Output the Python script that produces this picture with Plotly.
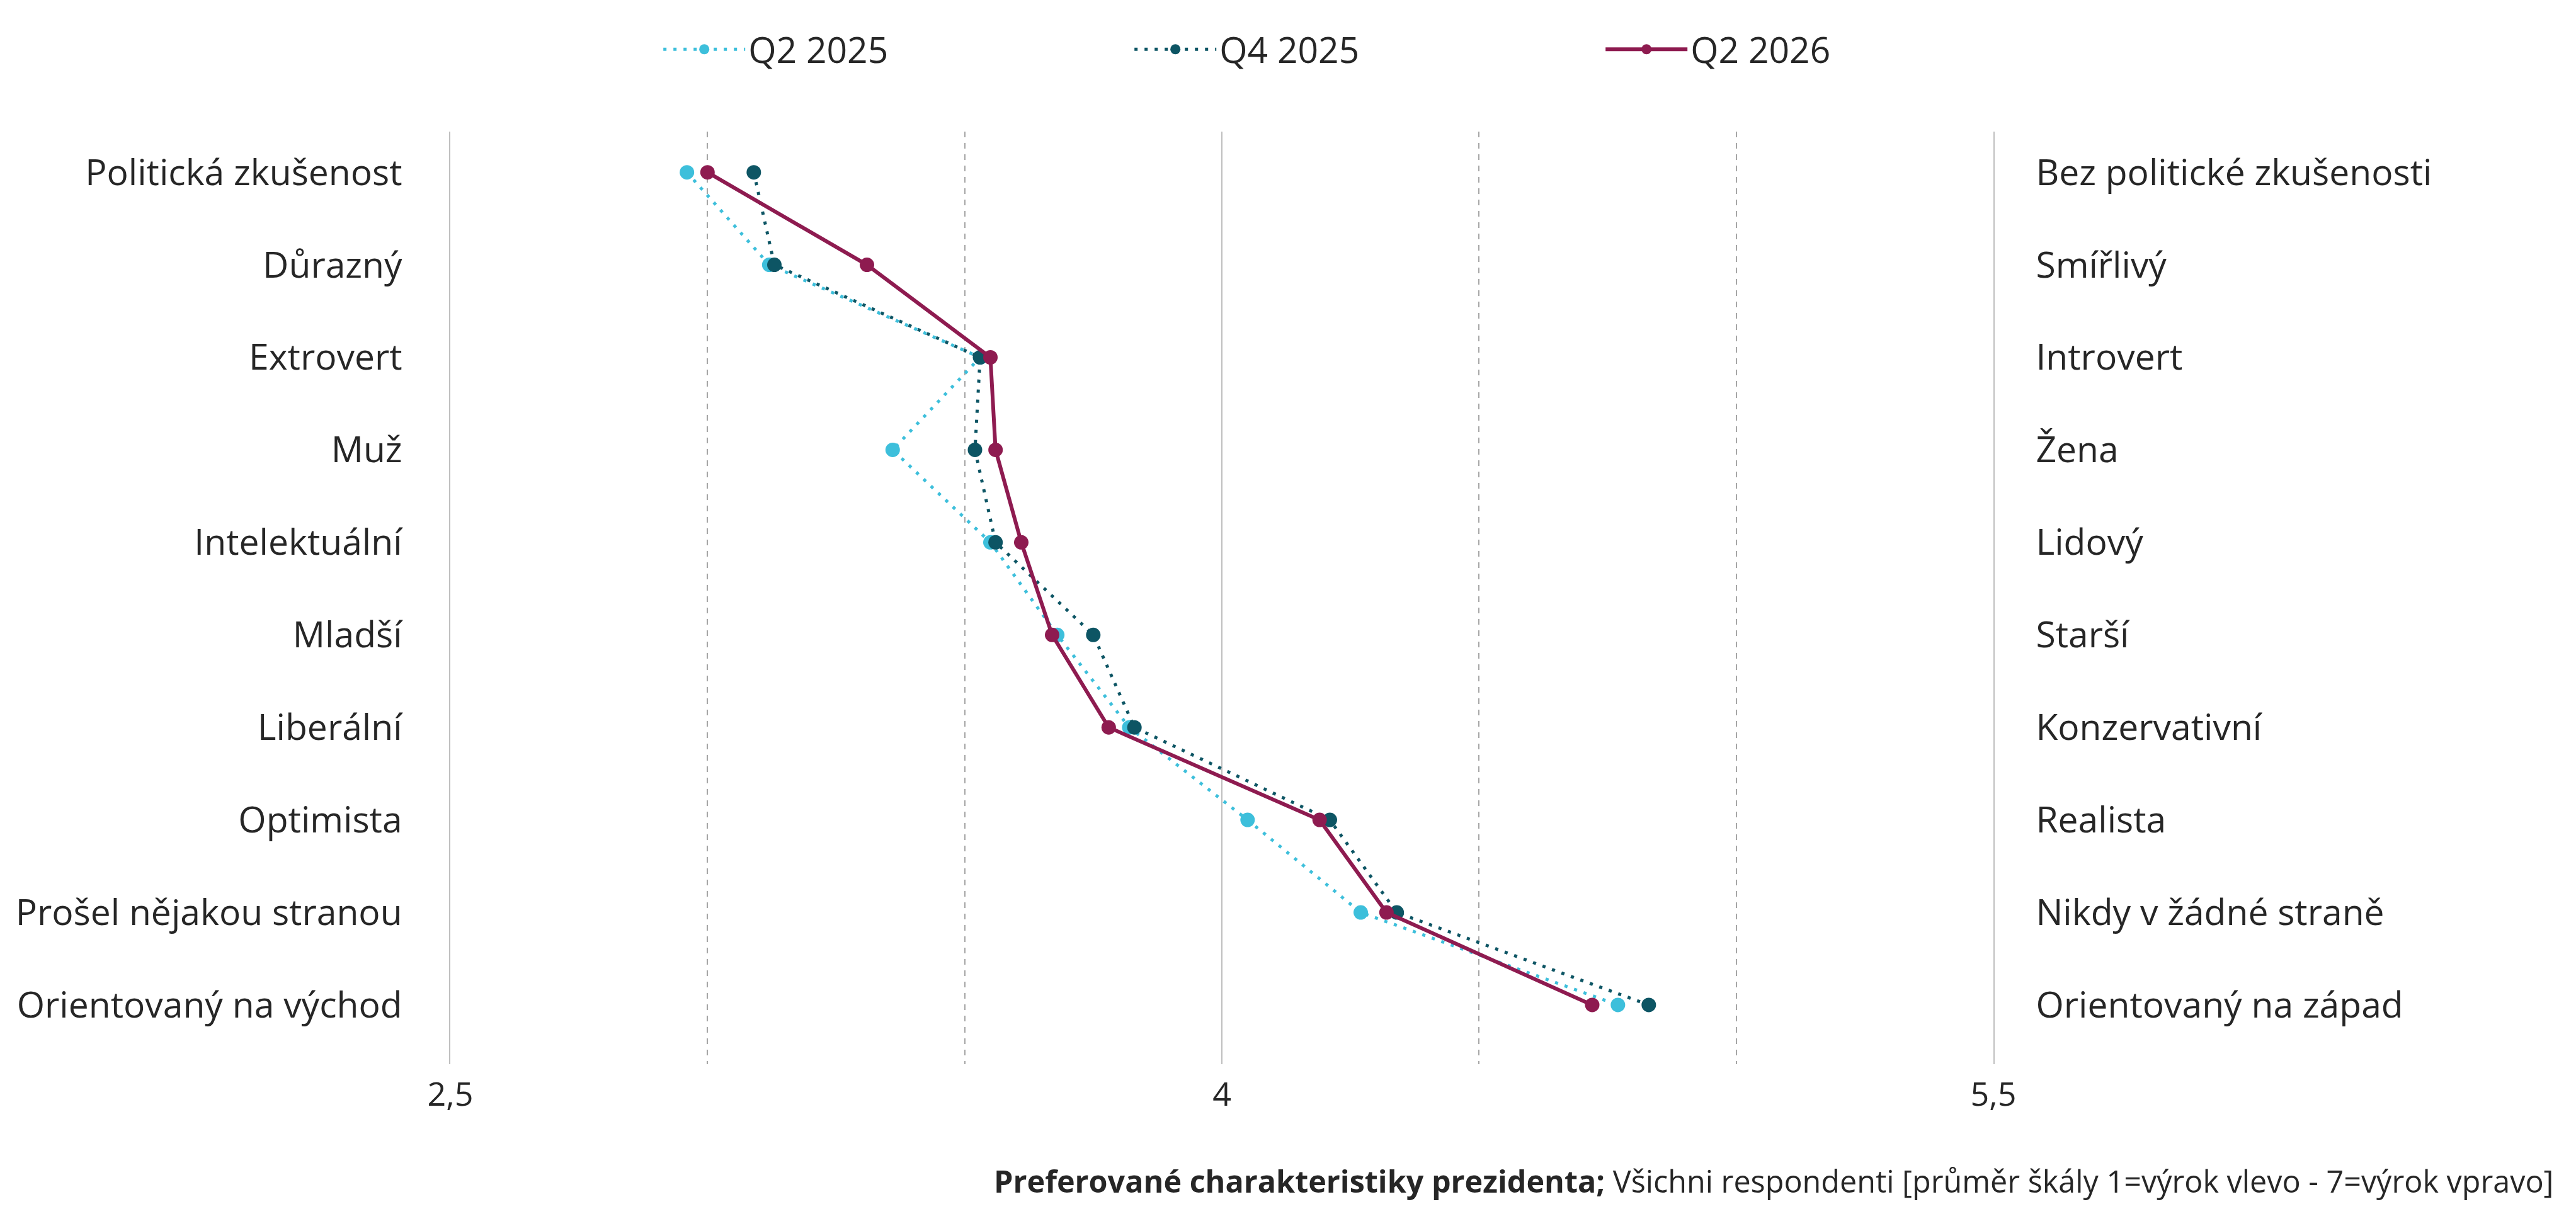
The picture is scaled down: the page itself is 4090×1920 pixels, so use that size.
import plotly.graph_objects as go

left_labels = ["Politická zkušenost", "Důrazný", "Extrovert", "Muž", "Intelektuální",
               "Mladší", "Liberální", "Optimista", "Prošel nějakou stranou", "Orientovaný na východ"]
right_labels = ["Bez politické zkušenosti", "Smířlivý", "Introvert", "Žena", "Lidový",
                "Starší", "Konzervativní", "Realista", "Nikdy v žádné straně", "Orientovaný na západ"]

q2_2025 = [2.96, 3.12, 3.53, 3.36, 3.55, 3.68, 3.82, 4.05, 4.27, 4.77]
q4_2025 = [3.09, 3.13, 3.53, 3.52, 3.56, 3.75, 3.83, 4.21, 4.34, 4.83]
q2_2026 = [3.00, 3.31, 3.55, 3.56, 3.61, 3.67, 3.78, 4.19, 4.32, 4.72]

series_names = ["Q2 2025", "Q4 2025", "Q2 2026"]
x_ticks = [2.5, 4, 5.5]

FONT = "Segoe UI, Open Sans, sans-serif"
TXT = "#262626"
GRID = "#BFBFBF"

idx = list(range(len(left_labels)))

fig = go.Figure()
styles = [
    dict(color="#3DBFDB", dash="5px,11px", width=5),
    dict(color="#0D5564", dash="5px,11px", width=5),
    dict(color="#8E1B50", dash="solid", width=6),
]
for name, vals, st in zip(series_names, [q2_2025, q4_2025, q2_2026], styles):
    fig.add_trace(go.Scatter(
        x=vals, y=idx, name=name, mode="lines+markers",
        line=dict(color=st["color"], dash=st["dash"], width=st["width"]),
        marker=dict(color=st["color"], size=23, symbol="circle"),
    ))

# invisible trace so the right-hand axis is drawn
fig.add_trace(go.Scatter(x=[None], y=[None], yaxis="y2", showlegend=False,
                         hoverinfo="skip", mode="markers"))

fig.update_layout(
    width=4090, height=1920,
    margin=dict(l=715, r=925, t=209, b=230),
    paper_bgcolor="white", plot_bgcolor="white",
    separators=", ",
    font=dict(family=FONT, size=57, color=TXT),
    showlegend=True,
    legend=dict(orientation="h", x=0.136, xanchor="left", y=1.088, yanchor="middle",
                font=dict(size=57, color=TXT), itemwidth=130,
                entrywidth=603, entrywidthmode="pixels", traceorder="normal"),
    xaxis=dict(range=[2.5, 5.5], tickvals=x_ticks, showgrid=True, gridcolor=GRID,
               gridwidth=2, zeroline=False, showline=False, ticks="",
               ticklabelstandoff=13, tickfont=dict(size=52, color=TXT),
               minor=dict(dtick=0.5, tick0=2.5, showgrid=True, gridcolor="#A6A6A6",
                          griddash="dash", gridwidth=2)),
    yaxis=dict(range=[9.64, -0.44], tickvals=idx, ticktext=left_labels, showgrid=False,
               zeroline=False, showline=True, linecolor=GRID, linewidth=2, ticks="",
               ticklabelstandoff=63, tickfont=dict(size=57, color=TXT)),
    yaxis2=dict(range=[9.64, -0.44], tickvals=idx, ticktext=right_labels, overlaying="y",
                side="right", showgrid=False, zeroline=False, showline=True, linecolor=GRID,
                linewidth=2, ticks="", ticklabelstandoff=54,
                tickfont=dict(size=57, color=TXT)),
)

fig.add_annotation(
    text="<b>Preferované charakteristiky prezidenta;</b> Všichni respondenti [průměr škály 1=výrok vlevo - 7=výrok vpravo]",
    xref="paper", yref="paper", x=1.3637, y=-0.125, xanchor="right", yanchor="middle",
    showarrow=False, font=dict(size=48.5, color=TXT),
)

fig.write_html("out.html")
